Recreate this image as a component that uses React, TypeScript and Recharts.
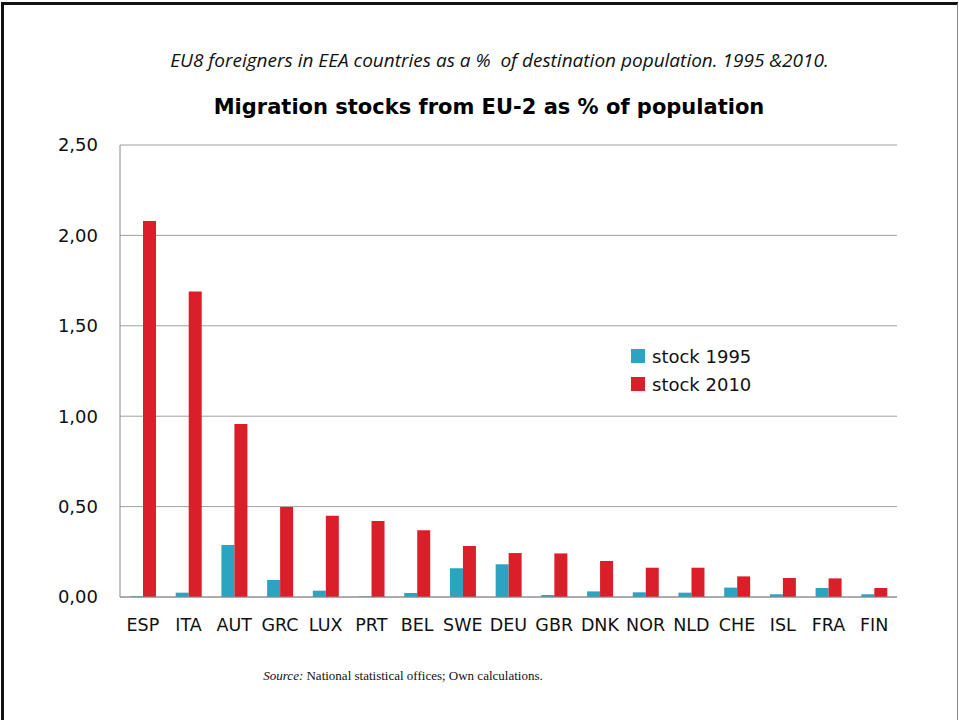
import React from 'react';
import { BarChart, Bar, XAxis, YAxis, CartesianGrid, Legend } from 'recharts';

// Destination countries, ordered by 2010 stock
const countries = ['ESP', 'ITA', 'AUT', 'GRC', 'LUX', 'PRT', 'BEL', 'SWE', 'DEU', 'GBR', 'DNK', 'NOR', 'NLD', 'CHE', 'ISL', 'FRA', 'FIN'];
// Stock of EU-2 migrants as % of destination population
const stock1995 = [0.004, 0.024, 0.288, 0.094, 0.035, 0.003, 0.022, 0.159, 0.181, 0.011, 0.031, 0.026, 0.024, 0.052, 0.015, 0.05, 0.015];
const stock2010 = [2.08, 1.69, 0.957, 0.498, 0.45, 0.42, 0.369, 0.282, 0.243, 0.241, 0.199, 0.162, 0.162, 0.114, 0.105, 0.103, 0.05];
const yTicks = [0, 0.5, 1, 1.5, 2, 2.5];

const data = countries.map((c, i) => ({ country: c, s1995: stock1995[i], s2010: stock2010[i] }));

const BLUE = '#2ca3c0';
const RED = '#da1f2a';
const FONT = '"DejaVu Sans", sans-serif';

const fmt = (v: number) => v.toFixed(2).replace('.', ',');

const LegendBox = ({ payload }: any) => (
  <div style={{ fontFamily: FONT, fontSize: 18, color: '#111' }}>
    {(payload || []).map((p: any) => (
      <div key={p.value} style={{ display: 'flex', alignItems: 'center', height: 28 }}>
        <span style={{ display: 'inline-block', width: 14, height: 14, background: p.color, marginRight: 7 }} />
        <span>{p.value}</span>
      </div>
    ))}
  </div>
);

export default function App() {
  return (
    <div
      style={{
        position: 'absolute',
        left: 0,
        top: 0,
        width: 959,
        height: 720,
        background: '#fff',
        overflow: 'hidden',
      }}
    >
      <div style={{ position: 'absolute', left: 1, top: 2, width: 957, height: 800, borderTop: '3px solid #111', borderLeft: '3px solid #111', borderRight: '1px solid #888', boxSizing: 'border-box' }} />
      <div
        style={{
          position: 'absolute',
          left: 0,
          width: 999,
          top: 47,
          textAlign: 'center',
          fontFamily: '"Open Sans", sans-serif',
          fontStyle: 'italic',
          fontSize: 19,
          color: '#111',
          whiteSpace: 'pre',
        }}
      >
        {'EU8 foreigners in EEA countries as a %  of destination population. 1995 &2010.'}
      </div>
      <div
        style={{
          position: 'absolute',
          left: 0,
          width: 978,
          top: 95,
          textAlign: 'center',
          fontFamily: FONT,
          fontWeight: 'bold',
          fontSize: 21,
          color: '#000',
        }}
      >
        Migration stocks from EU-2 as % of population
      </div>
      <BarChart
        width={959}
        height={720}
        data={data}
        margin={{ top: 145, right: 62, bottom: 93, left: 60 }}
        barSize={13}
        barGap={0}
        style={{ position: 'absolute', left: 0, top: 0 }}
      >
        <CartesianGrid vertical={false} stroke="#a0a0a0" strokeWidth={1} />
        <XAxis
          dataKey="country"
          height={30}
          axisLine={{ stroke: '#888' }}
          tickLine={false}
          tickSize={0}
          tickMargin={22}
          interval={0}
          tick={{ fontFamily: FONT, fontSize: 17.5, fill: '#111' }}
        />
        <YAxis
          width={60}
          domain={[0, 2.5]}
          ticks={yTicks}
          tickFormatter={fmt}
          axisLine={{ stroke: '#888' }}
          tickLine={false}
          tickSize={0}
          tickMargin={22}
          tick={{ fontFamily: FONT, fontSize: 18, fill: '#111' }}
        />
        <Legend
          layout="vertical"
          align="center"
          verticalAlign="middle"
          content={<LegendBox />}
          wrapperStyle={{ position: 'absolute', left: 631, top: 342, width: 200 }}
        />
        <Bar dataKey="s1995" name="stock 1995" fill={BLUE} isAnimationActive={false} />
        <Bar dataKey="s2010" name="stock 2010" fill={RED} isAnimationActive={false} />
      </BarChart>
      <div
        style={{
          position: 'absolute',
          left: 0,
          width: 806,
          top: 668,
          textAlign: 'center',
          fontFamily: '"Liberation Serif", serif',
          fontSize: 13,
          color: '#111',
        }}
      >
        <i>Source:</i> National statistical offices; Own calculations.
      </div>
    </div>
  );
}
